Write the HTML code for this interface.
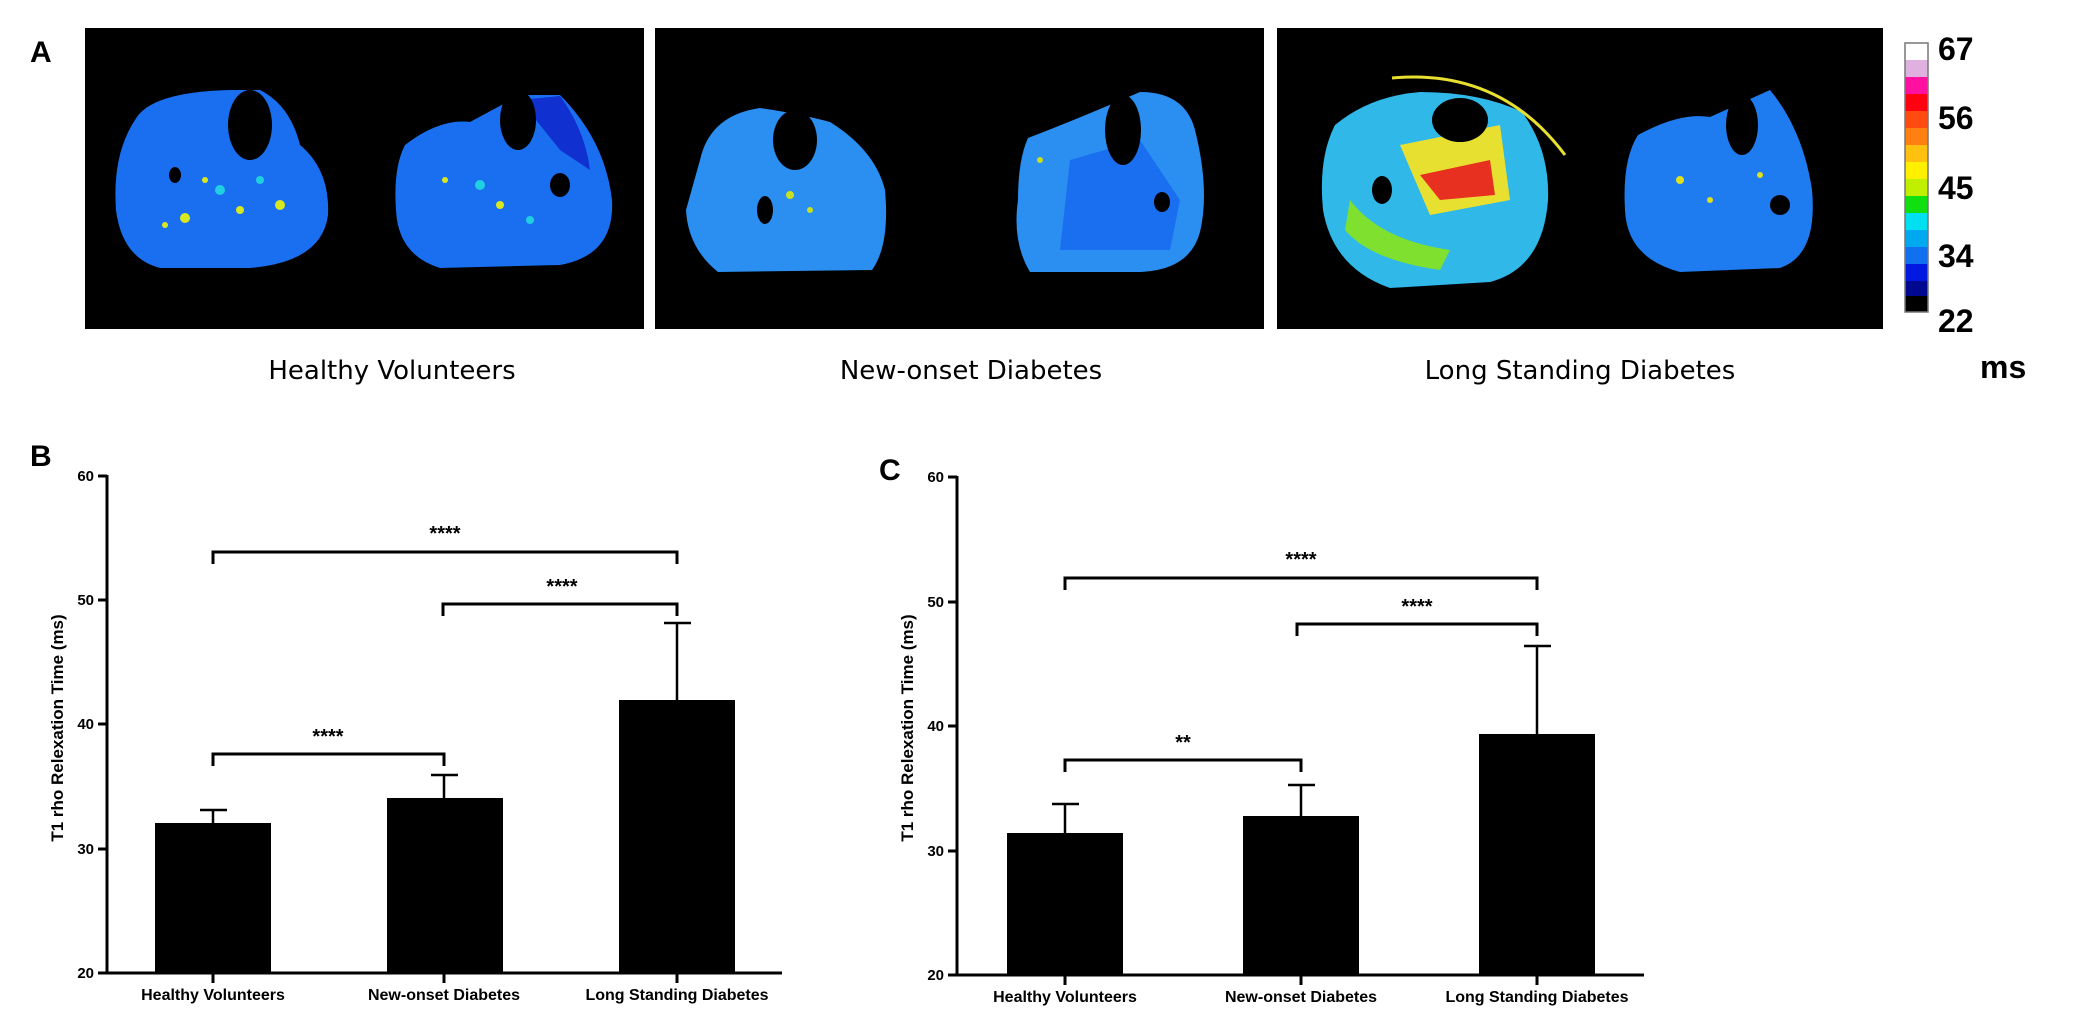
<!DOCTYPE html>
<html><head><meta charset="utf-8"><style>
html,body{margin:0;padding:0;background:#fff;}
svg{display:block;}
.t{font-family:"Liberation Sans",sans-serif;}
</style></head><body>
<svg width="2090" height="1035" viewBox="0 0 2090 1035" xmlns="http://www.w3.org/2000/svg">
<rect width="2090" height="1035" fill="#fff"/>
<text x="30" y="62" class="t" font-size="30" font-weight="bold">A</text>
<rect x="85" y="28" width="559" height="301" fill="#000"/>
<rect x="655" y="28" width="609" height="301" fill="#000"/>
<rect x="1277" y="28" width="606" height="301" fill="#000"/>
<g>
<path d="M135 120 Q150 92 230 90 L260 90 Q290 105 300 145 Q330 170 328 215 Q322 262 250 268 L160 268 Q122 258 116 210 Q112 155 135 120Z" fill="#1a6ff0"/>
<ellipse cx="250" cy="125" rx="22" ry="35" fill="#000"/>
<ellipse cx="175" cy="175" rx="6" ry="8" fill="#000"/>
<path d="M405 145 Q440 118 470 122 L520 95 L560 95 Q605 140 612 200 Q615 255 560 265 L440 268 Q398 255 396 210 Q393 168 405 145Z" fill="#1a6ff0"/>
<path d="M520 100 L560 96 Q585 130 590 170 L560 150Z" fill="#1030d0"/>
<ellipse cx="518" cy="120" rx="18" ry="30" fill="#000"/>
<ellipse cx="560" cy="185" rx="10" ry="12" fill="#000"/>
<g fill="#d8e820"><circle cx="185" cy="218" r="5"/><circle cx="240" cy="210" r="4"/><circle cx="280" cy="205" r="5"/><circle cx="205" cy="180" r="3"/><circle cx="165" cy="225" r="3"/><circle cx="500" cy="205" r="4"/><circle cx="445" cy="180" r="3"/></g>
<g fill="#20d0e0"><circle cx="220" cy="190" r="5"/><circle cx="260" cy="180" r="4"/><circle cx="480" cy="185" r="5"/><circle cx="530" cy="220" r="4"/></g>
</g>
<g>
<path d="M700 160 Q710 115 760 108 Q800 114 830 122 Q875 150 885 190 Q890 245 872 270 L718 272 Q688 248 686 210Z" fill="#2a8ff0"/>
<ellipse cx="795" cy="140" rx="22" ry="30" fill="#000"/>
<ellipse cx="765" cy="210" rx="8" ry="14" fill="#000"/>
<path d="M1028 138 Q1080 118 1140 92 Q1185 92 1195 130 Q1210 190 1200 232 Q1190 270 1140 272 L1030 272 Q1012 242 1018 200 Q1018 160 1028 138Z" fill="#2a8ff0"/>
<path d="M1070 160 L1140 140 L1180 200 L1170 250 L1060 250Z" fill="#1a6ff0"/>
<ellipse cx="1123" cy="130" rx="18" ry="35" fill="#000"/>
<ellipse cx="1162" cy="202" rx="8" ry="10" fill="#000"/>
<g fill="#c8e020"><circle cx="790" cy="195" r="4"/><circle cx="810" cy="210" r="3"/><circle cx="1040" cy="160" r="3"/></g>
</g>
<g>
<path d="M1335 125 Q1370 96 1420 92 Q1480 92 1522 112 Q1550 150 1548 200 Q1543 268 1490 282 L1390 288 Q1333 268 1323 210 Q1318 158 1335 125Z" fill="#30b8e8"/>
<path d="M1400 145 L1500 125 L1510 200 L1430 215 Z" fill="#e8e030"/>
<path d="M1420 175 L1490 160 L1495 195 L1440 200Z" fill="#e83020"/>
<path d="M1350 200 Q1380 240 1450 250 L1440 270 Q1370 260 1345 230Z" fill="#80e030"/>
<ellipse cx="1460" cy="120" rx="28" ry="22" fill="#000"/>
<ellipse cx="1382" cy="190" rx="10" ry="14" fill="#000"/>
<path d="M1392 78 Q1500 68 1565 155" stroke="#e8e030" stroke-width="3" fill="none"/>
<path d="M1638 135 Q1680 112 1710 117 L1770 90 Q1803 130 1812 190 Q1818 255 1780 268 L1680 272 Q1627 258 1625 210 Q1622 160 1638 135Z" fill="#1e7cf0"/>
<ellipse cx="1742" cy="125" rx="16" ry="30" fill="#000"/>
<ellipse cx="1780" cy="205" rx="10" ry="10" fill="#000"/>
<g fill="#e0e020"><circle cx="1680" cy="180" r="4"/><circle cx="1710" cy="200" r="3"/><circle cx="1760" cy="175" r="3"/></g>
</g>
<g>
<rect x="1905" y="43" width="23" height="17" fill="#fff"/>
<rect x="1905" y="60" width="23" height="17" fill="#e0b0e0"/>
<rect x="1905" y="77" width="23" height="17" fill="#ff10a0"/>
<rect x="1905" y="94" width="23" height="17" fill="#ff0010"/>
<rect x="1905" y="111" width="23" height="17" fill="#ff4a10"/>
<rect x="1905" y="128" width="23" height="17" fill="#ff8010"/>
<rect x="1905" y="145" width="23" height="17" fill="#ffc010"/>
<rect x="1905" y="162" width="23" height="17" fill="#fff000"/>
<rect x="1905" y="179" width="23" height="17" fill="#c0f000"/>
<rect x="1905" y="196" width="23" height="17" fill="#10e010"/>
<rect x="1905" y="213" width="23" height="17" fill="#00e0f0"/>
<rect x="1905" y="230" width="23" height="17" fill="#00a8f0"/>
<rect x="1905" y="247" width="23" height="17" fill="#1070f0"/>
<rect x="1905" y="264" width="23" height="17" fill="#0018e0"/>
<rect x="1905" y="281" width="23" height="15" fill="#000890"/>
<rect x="1905" y="296" width="23" height="16" fill="#000"/>
<rect x="1905" y="43" width="23" height="269" fill="none" stroke="#777" stroke-width="1.5"/>
<g class="t" font-size="32" font-weight="bold">
<text x="1938" y="60">67</text><text x="1938" y="129">56</text><text x="1938" y="199">45</text><text x="1938" y="267">34</text><text x="1938" y="332">22</text>
<text x="1980" y="378">ms</text>
</g>
</g>
<g font-family="'DejaVu Sans','Liberation Sans',sans-serif" font-size="26" text-anchor="middle">
<text x="392" y="379">Healthy Volunteers</text>
<text x="971" y="379">New-onset Diabetes</text>
<text x="1580" y="379">Long Standing Diabetes</text>
</g>

<text x="30" y="466" class="t" font-size="30" font-weight="bold">B</text>
<g stroke="#000" stroke-width="3" fill="none">
<path d="M107 475 V973 H782"/>
<path d="M98 476 H107 M98 600 H107 M98 724 H107 M98 849 H107 M98 973 H107"/>
<path d="M213 973 V983 M444 973 V983 M677 973 V983"/>
</g>
<g class="t" font-size="15" font-weight="bold" text-anchor="end">
<text x="94" y="481">60</text><text x="94" y="605">50</text><text x="94" y="729">40</text><text x="94" y="854">30</text><text x="94" y="978">20</text>
</g>
<text class="t" font-size="17" font-weight="bold" text-anchor="middle" transform="translate(63,728) rotate(-90)">T1 rho Relexation Time (ms)</text>
<g fill="#000">
<rect x="155" y="823" width="116" height="150"/>
<rect x="387" y="798" width="116" height="175"/>
<rect x="619" y="700" width="116" height="273"/>
</g>
<g stroke="#000" stroke-width="2.5" fill="none">
<path d="M213 823 V810 M200 810 H227"/>
<path d="M444 798 V775 M431 775 H458"/>
<path d="M677 700 V623 M664 623 H691"/>
</g>
<g stroke="#000" stroke-width="3" fill="none">
<path d="M213 564 V552 H677 V564"/>
<path d="M443 616 V604 H677 V616"/>
<path d="M213 766 V754 H444 V766"/>
</g>
<g class="t" font-size="20" font-weight="bold" text-anchor="middle">
<text x="445" y="540">****</text><text x="562" y="593">****</text><text x="328" y="743">****</text>
</g>
<g class="t" font-size="16" font-weight="bold" text-anchor="middle">
<text x="213" y="1000">Healthy Volunteers</text><text x="444" y="1000">New-onset Diabetes</text><text x="677" y="1000">Long Standing Diabetes</text>
</g>

<text x="879" y="480" class="t" font-size="30" font-weight="bold">C</text>
<g stroke="#000" stroke-width="3" fill="none">
<path d="M957 476 V975 H1644"/>
<path d="M948 477 H957 M948 602 H957 M948 726 H957 M948 851 H957 M948 975 H957"/>
<path d="M1065 975 V985 M1301 975 V985 M1537 975 V985"/>
</g>
<g class="t" font-size="15" font-weight="bold" text-anchor="end">
<text x="944" y="482">60</text><text x="944" y="607">50</text><text x="944" y="731">40</text><text x="944" y="856">30</text><text x="944" y="980">20</text>
</g>
<text class="t" font-size="17" font-weight="bold" text-anchor="middle" transform="translate(913,728) rotate(-90)">T1 rho Relexation Time (ms)</text>
<g fill="#000">
<rect x="1007" y="833" width="116" height="142"/>
<rect x="1243" y="816" width="116" height="159"/>
<rect x="1479" y="734" width="116" height="241"/>
</g>
<g stroke="#000" stroke-width="2.5" fill="none">
<path d="M1065 833 V804 M1052 804 H1079"/>
<path d="M1301 816 V785 M1288 785 H1315"/>
<path d="M1537 734 V646 M1524 646 H1551"/>
</g>
<g stroke="#000" stroke-width="3" fill="none">
<path d="M1065 590 V578 H1537 V590"/>
<path d="M1297 636 V624 H1537 V636"/>
<path d="M1065 772 V760 H1301 V772"/>
</g>
<g class="t" font-size="20" font-weight="bold" text-anchor="middle">
<text x="1301" y="566">****</text><text x="1417" y="613">****</text><text x="1183" y="749">**</text>
</g>
<g class="t" font-size="16" font-weight="bold" text-anchor="middle">
<text x="1065" y="1002">Healthy Volunteers</text><text x="1301" y="1002">New-onset Diabetes</text><text x="1537" y="1002">Long Standing Diabetes</text>
</g>
</svg>
</body></html>
